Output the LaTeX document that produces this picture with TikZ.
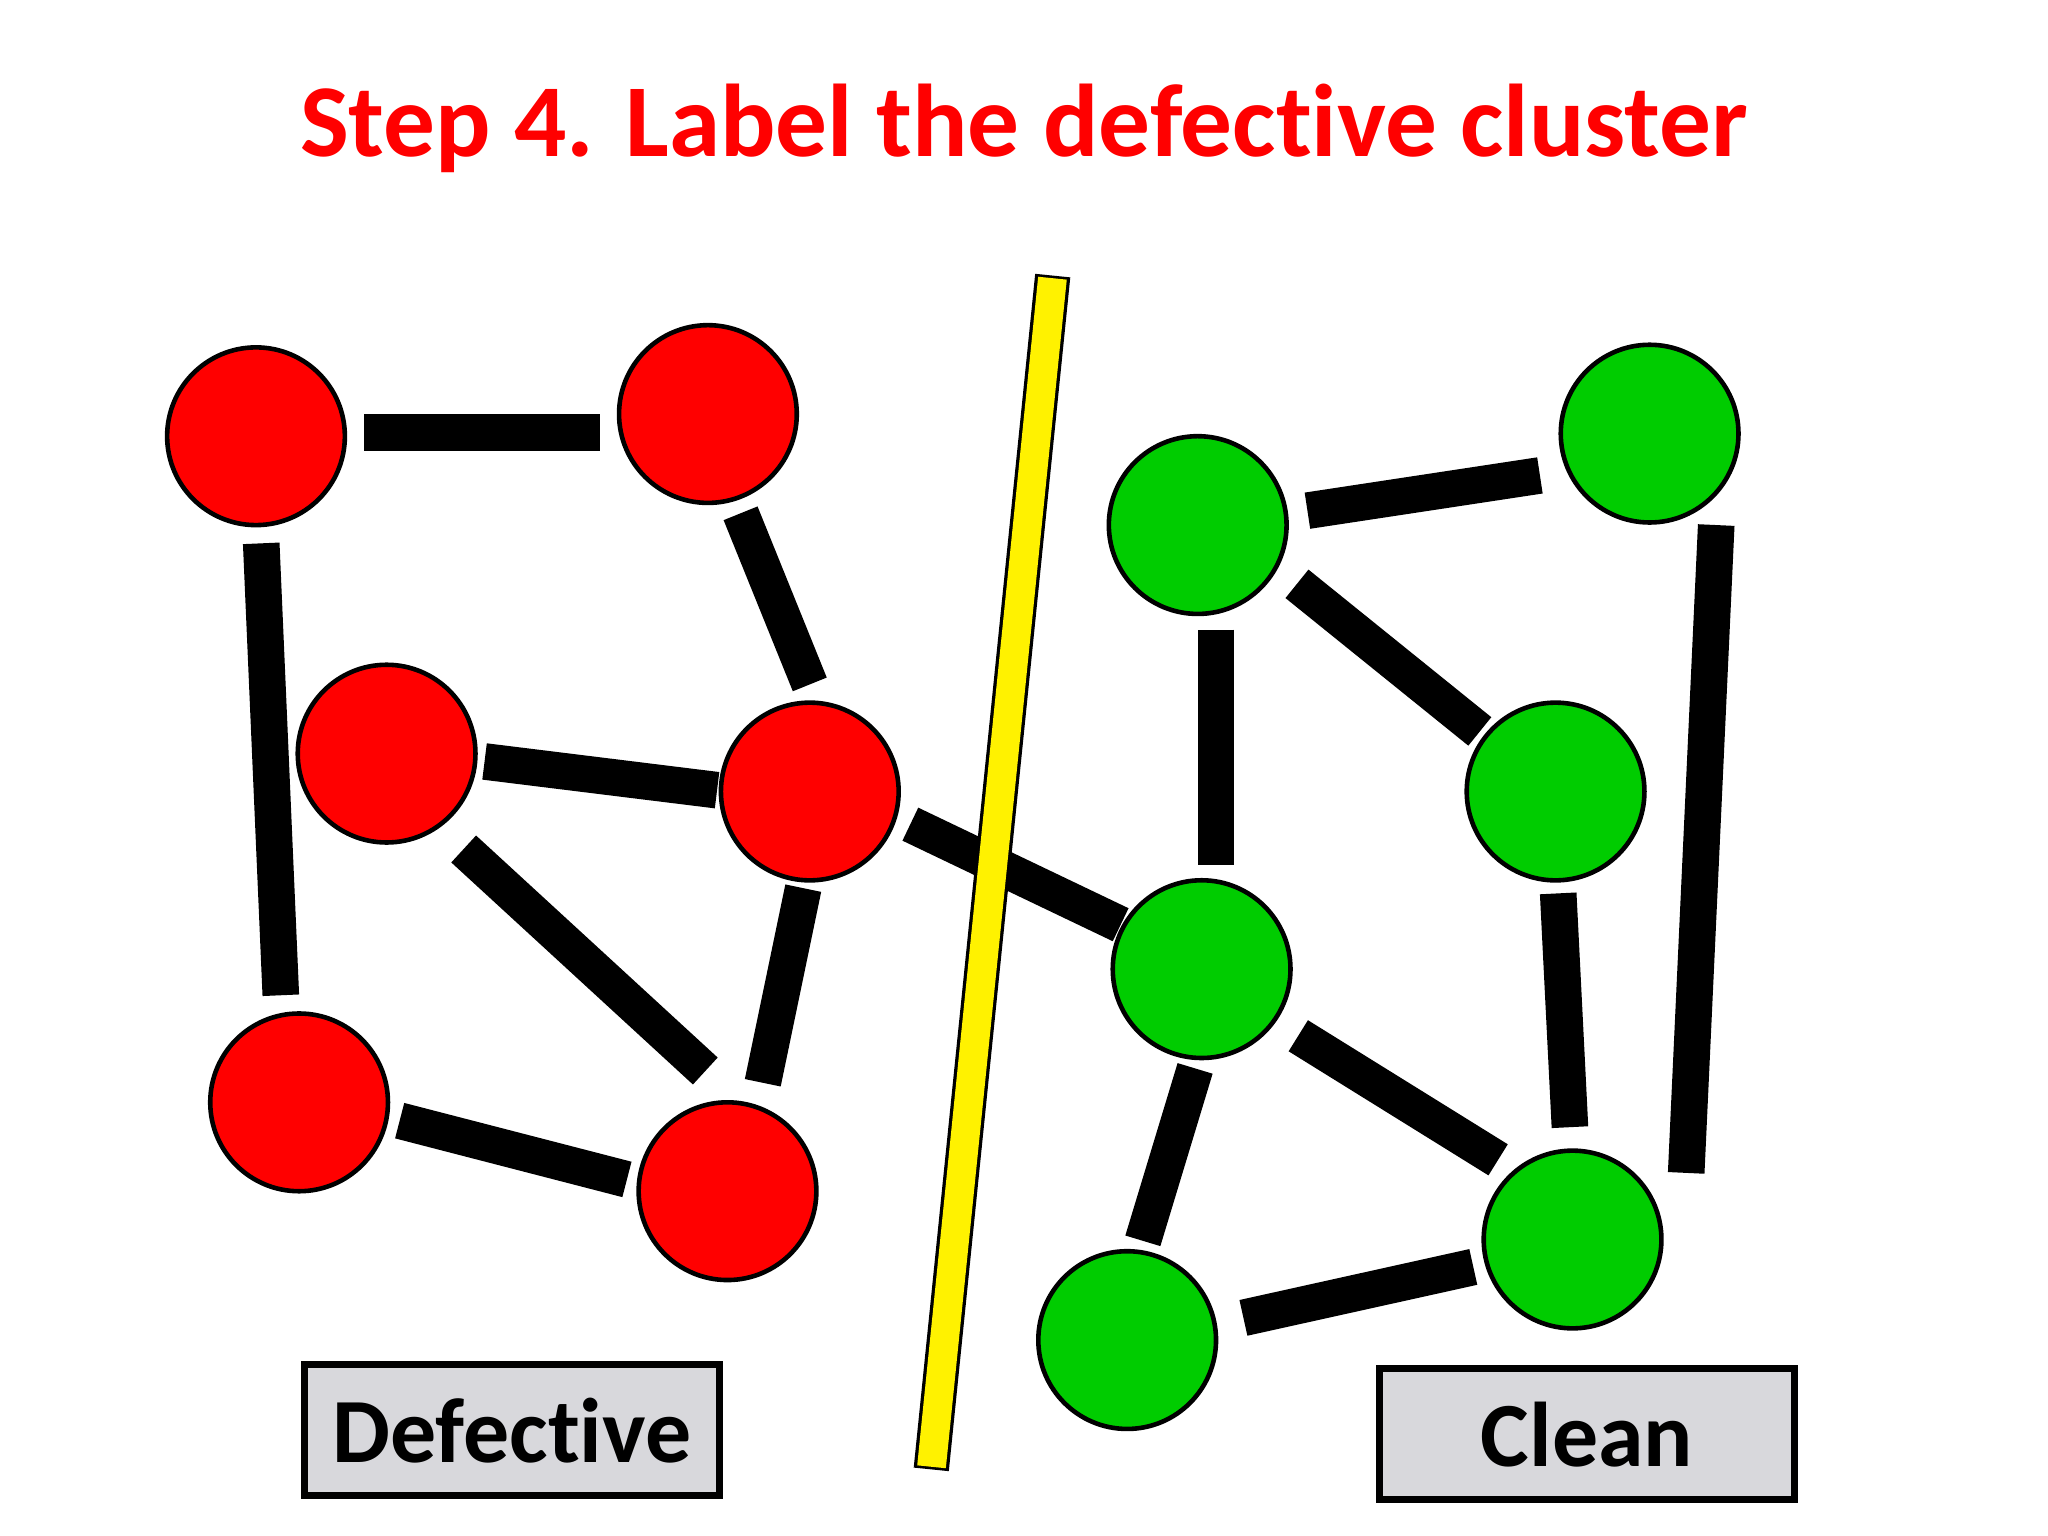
\documentclass[tikz,border=0pt]{standalone}
\usepackage{fontspec}
\setmainfont{Carlito}[Ligatures = NoCommon]
\usetikzlibrary{arrows.meta}

\definecolor{defred}{RGB}{255,0,0}
\definecolor{cleangreen}{RGB}{0,204,0}
\definecolor{boxgray}{RGB}{216,216,220}

\tikzset{
    defect/.style = {circle, draw = black, line width = 1pt, fill = defred,
                     minimum size = 1.36cm, inner sep = 0pt},
    clean/.style  = {circle, draw = black, line width = 1pt, fill = cleangreen,
                     minimum size = 1.36cm, inner sep = 0pt},
    bar/.style    = {line width = 0.28cm},
    tag/.style    = {draw = black, line width = 1.5pt, fill = boxgray,
                     minimum width = 3.18cm, minimum height = 1.0cm,
                     font = \fontsize{20}{24}\selectfont\bfseries}
}

\begin{document}
\begin{tikzpicture}[x = 0.01cm, y = -0.01cm]
        \useasboundingbox (0, 0) rectangle (1568, 1176);

        % Titel
        \node [text = defred, font = \fontsize{22.5}{26}\selectfont\bfseries]
              (title) at (784, 98) {Step 4. Label the defective cluster};

        %
        % DEFEKTER CLUSTER
        %
        \node [defect] (a) at (196, 334) {};
        \node [defect] (b) at (542, 317) {};
        \node [defect] (c) at (296, 577) {};
        \node [defect] (d) at (620, 606) {};
        \node [defect] (e) at (229, 844) {};
        \node [defect] (f) at (557, 912) {};

        %
        % SAUBERER CLUSTER
        %
        \node [clean] (g) at (917, 402) {};
        \node [clean] (h) at (1263, 332) {};
        \node [clean] (i) at (1191, 606) {};
        \node [clean] (j) at (920, 742) {};
        \node [clean] (k) at (863, 1026) {};
        \node [clean] (l) at (1204, 949) {};

        % Kanten - links
        \draw [bar] (279, 331) -- (459, 331);  % a - b
        \draw [bar] (200, 416) -- (215, 762);  % a - e
        \draw [bar] (567, 393) -- (620, 524);  % b - d
        \draw [bar] (371, 583) -- (549, 605);  % c - d
        \draw [bar] (355, 650) -- (540, 820);  % c - f
        \draw [bar] (615, 680) -- (584, 829);  % d - f
        \draw [bar] (306, 858) -- (480, 903);  % e - f

        % Kante ueber die Grenze
        \draw [bar] (697, 631) -- (858, 708);  % d - j

        % Kanten - rechts
        \draw [bar] (1001, 391) -- (1179, 364); % g - h
        \draw [bar] (993, 447) -- (1133, 560);  % g - i
        \draw [bar] (931, 482) -- (931, 662);   % g - j
        \draw [bar] (1314, 402) -- (1291, 898); % h - l
        \draw [bar] (1193, 684) -- (1202, 863); % i - l
        \draw [bar] (994, 793) -- (1147, 888);  % j - l
        \draw [bar] (915, 818) -- (875, 950);   % j - k
        \draw [bar] (952, 1009) -- (1128, 970); % k - l

        % Trennlinie
        \coordinate (cuttop) at (806, 211);
        \coordinate (cutbot) at (713, 1125);
        \draw [line width = 0.27cm] (cuttop) -- (cutbot);
        \draw [line width = 0.22cm, yellow, shorten < = 0.02cm, shorten > = 0.02cm]
              (cuttop) -- (cutbot);

        % Beschriftungen
        \node [tag] (defective) at (392, 1095) {Defective};
        \node [tag] (cleantag) at (1215, 1098) {Clean};
\end{tikzpicture}
\end{document}
